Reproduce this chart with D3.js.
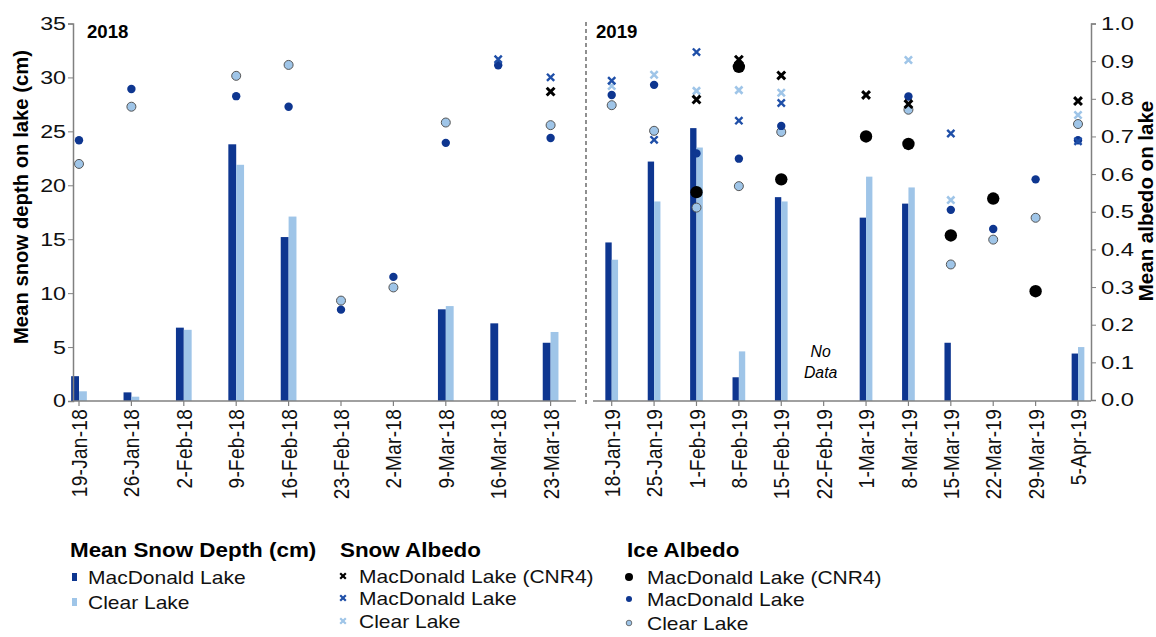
<!DOCTYPE html>
<html><head><meta charset="utf-8">
<script src="https://cdn.jsdelivr.net/npm/d3@7"></script>
<style>
body{margin:0;background:#fff;}
text{font-family:"Liberation Sans",Arial,sans-serif;}
</style></head>
<body><svg id="c" width="1156" height="637"></svg>
<script>
// ---- data ----
const cats2018 = ["19-Jan-18","26-Jan-18","2-Feb-18","9-Feb-18","16-Feb-18","23-Feb-18","2-Mar-18","9-Mar-18","16-Mar-18","23-Mar-18"];
const depthMac18   = [2.3,0.8,6.8,23.8,15.2,null,null,8.5,7.2,5.4];
const depthClear18 = [0.9,0.4,6.6,21.9,17.1,null,null,8.8,null,6.4];
const snowCNR18    = [null,null,null,null,null,null,null,null,null,0.819];
const snowMac18    = [null,null,null,null,null,null,null,null,0.905,0.857];
const snowClear18  = [null,null,null,null,null,null,null,null,null,null];
const iceCNR18     = [null,null,null,null,null,null,null,null,null,null];
const iceMac18     = [0.690,0.826,null,0.807,0.779,0.240,0.327,0.683,0.889,0.696];
const iceClear18   = [0.627,0.779,null,0.861,0.890,0.264,0.299,0.737,null,0.730];

const cats2019 = ["18-Jan-19","25-Jan-19","1-Feb-19","8-Feb-19","15-Feb-19","22-Feb-19","1-Mar-19","8-Mar-19","15-Mar-19","22-Mar-19","29-Mar-19","5-Apr-19"];
const depthMac19   = [14.7,22.2,25.3,2.2,18.9,null,17.0,18.3,5.4,null,null,4.4];
const depthClear19 = [13.1,18.5,23.5,4.6,18.5,null,20.8,19.8,null,null,null,5.0];
const snowCNR19    = [null,null,0.798,0.904,0.862,null,0.810,0.786,null,null,null,0.794];
const snowMac19    = [0.848,0.691,0.924,0.742,0.789,null,null,null,0.708,null,null,0.687];
const snowClear19  = [0.834,0.864,0.821,0.823,0.816,null,null,0.903,0.531,null,null,0.757];
const iceCNR19     = [null,null,0.552,0.885,0.586,null,0.700,0.680,0.437,0.535,0.289,null];
const iceMac19     = [0.810,0.837,0.655,0.641,0.728,null,null,0.806,0.505,0.454,0.586,0.690];
const iceClear19   = [0.783,0.715,0.511,0.568,0.712,null,null,0.771,0.360,0.426,0.484,0.733];

const depthTicks = [0,5,10,15,20,25,30,35];
const albedoTicks = [0,0.1,0.2,0.3,0.4,0.5,0.6,0.7,0.8,0.9,1.0];

// ---- styles ----
const DARK = "#0e3690", LIGHT = "#9fc5e8", AXIS = "#808080", SNOWMAC = "#1f4fa8";
const svg = d3.select("#c");

const yD = d3.scaleLinear().domain([0,35]).range([401,23.5]);
const yA = d3.scaleLinear().domain([0,1]).range([400,23.5]);

const panels = [
  {cats:cats2018, x:d3.scalePoint().domain(cats2018).range([79,550.6]), axis:[73,576], title:"2018", tx:87,
   dm:depthMac18, dc:depthClear18, sC:snowCNR18, sM:snowMac18, sL:snowClear18, iC:iceCNR18, iM:iceMac18, iL:iceClear18},
  {cats:cats2019, x:d3.scalePoint().domain(cats2019).range([611.7,1078]), axis:[593,1091], title:"2019", tx:596,
   dm:depthMac19, dc:depthClear19, sC:snowCNR19, sM:snowMac19, sL:snowClear19, iC:iceCNR19, iM:iceMac19, iL:iceClear19}
];

function xPath(s){ return `M${-s},${-s}L${s},${s}M${-s},${s}L${s},${-s}`; }

panels.forEach(p=>{
  const g = svg.append("g");
  const step = p.x.step();
  const bw = step*0.15;
  // bars
  g.selectAll(".bm").data(p.cats.map((c,i)=>({c,v:p.dm[i]})).filter(d=>d.v!=null)).join("rect")
    .attr("x",d=>p.x(d.c)-bw).attr("width",bw).attr("y",d=>yD(d.v)).attr("height",d=>yD(0)-yD(d.v)).attr("fill",DARK);
  g.selectAll(".bc").data(p.cats.map((c,i)=>({c,v:p.dc[i]})).filter(d=>d.v!=null)).join("rect")
    .attr("x",d=>p.x(d.c)).attr("width",bw).attr("y",d=>yD(d.v)).attr("height",d=>yD(0)-yD(d.v)).attr("fill",LIGHT);
  // x axis
  g.append("line").attr("x1",p.axis[0]).attr("x2",p.axis[1]).attr("y1",yD(0)).attr("y2",yD(0)).attr("stroke",AXIS).attr("stroke-width",1.5);
  const tk = g.selectAll(".tk").data(p.cats).join("g").attr("transform",d=>`translate(${p.x(d)},${yD(0)})`);
  tk.append("line").attr("y1",0).attr("y2",5).attr("stroke",AXIS).attr("stroke-width",1.2);
  tk.append("text").attr("transform","translate(0,8) scale(1.18,1) rotate(-90)").attr("text-anchor","end").attr("dy","0.36em")
    .attr("font-size",19).attr("fill","#111").style("letter-spacing","0.3px").text(d=>d);
  // markers
  const pts = arr => p.cats.map((c,i)=>({c,v:arr[i]})).filter(d=>d.v!=null);
  g.selectAll(".il").data(pts(p.iL)).join("circle").attr("cx",d=>p.x(d.c)).attr("cy",d=>yA(d.v)).attr("r",4.5)
    .attr("fill",LIGHT).attr("stroke","#555").attr("stroke-width",1);
  g.selectAll(".im").data(pts(p.iM)).join("circle").attr("cx",d=>p.x(d.c)).attr("cy",d=>yA(d.v)).attr("r",4.2).attr("fill",DARK);
  g.selectAll(".ic").data(pts(p.iC)).join("circle").attr("cx",d=>p.x(d.c)).attr("cy",d=>yA(d.v)).attr("r",6.2).attr("fill","#000");
  g.selectAll(".sl").data(pts(p.sL)).join("path").attr("transform",d=>`translate(${p.x(d.c)},${yA(d.v)})`)
    .attr("d",xPath(3.6)).attr("stroke",LIGHT).attr("stroke-width",2.6).attr("fill","none");
  g.selectAll(".sm").data(pts(p.sM)).join("path").attr("transform",d=>`translate(${p.x(d.c)},${yA(d.v)})`)
    .attr("d",xPath(3.6)).attr("stroke",SNOWMAC).attr("stroke-width",2.4).attr("fill","none");
  g.selectAll(".sc").data(pts(p.sC)).join("path").attr("transform",d=>`translate(${p.x(d.c)},${yA(d.v)})`)
    .attr("d",xPath(3.9)).attr("stroke","#000").attr("stroke-width",3).attr("fill","none");
  // panel title
  g.append("text").attr("x",p.tx).attr("y",38).attr("font-size",18.6).attr("font-weight","bold").text(p.title);
});

// No Data
const ndx = panels[1].x("22-Feb-19") - 3;
svg.append("text").attr("x",ndx).attr("y",357).attr("text-anchor","middle").attr("font-size",15.8).attr("font-style","italic").text("No");
svg.append("text").attr("x",ndx).attr("y",378).attr("text-anchor","middle").attr("font-size",15.8).attr("font-style","italic").text("Data");

// separator
svg.append("line").attr("x1",586).attr("x2",586).attr("y1",22).attr("y2",405).attr("stroke","#555").attr("stroke-width",1.3).attr("stroke-dasharray","4,3");

function stretch(sel, sx){
  sel.each(function(){
    const t = d3.select(this);
    const x = +t.attr("x") || 0;
    t.attr("x", x/sx).attr("transform", `scale(${sx},1)`);
  });
}
// left axis
const la = svg.append("g").attr("transform","translate(73,0)")
  .call(d3.axisLeft(yD).tickValues(depthTicks).tickSize(5).tickPadding(2).tickFormat(d3.format("d")));
la.select(".domain").attr("stroke",AXIS).attr("stroke-width",1.5);
la.selectAll(".tick line").attr("stroke",AXIS);
la.selectAll("text").attr("font-size",18.6).attr("fill","#111").attr("font-family","Liberation Sans, Arial, sans-serif");
stretch(la.selectAll("text"),1.25);
// right axis
const ra = svg.append("g").attr("transform","translate(1091,0)")
  .call(d3.axisRight(yA).tickValues(albedoTicks).tickSize(5).tickPadding(5).tickFormat(d3.format(".1f")));
ra.select(".domain").attr("stroke",AXIS).attr("stroke-width",1.5);
ra.selectAll(".tick line").attr("stroke",AXIS);
ra.selectAll("text").attr("font-size",18.6).attr("fill","#111").attr("font-family","Liberation Sans, Arial, sans-serif");
stretch(ra.selectAll("text"),1.28);

// axis titles
svg.append("text").attr("transform","translate(28,197) rotate(-90)").attr("text-anchor","middle")
  .attr("font-size",20.3).attr("font-weight","bold").text("Mean snow depth on lake (cm)");
svg.append("text").attr("transform","translate(1153,201) rotate(-90)").attr("text-anchor","middle")
  .attr("font-size",20.5).attr("font-weight","bold").text("Mean albedo on lake");

// legend
const LSX = 1.13;
const lg = svg.append("g");
const heads = [{t:"Mean Snow Depth (cm)",x:70},{t:"Snow Albedo",x:340},{t:"Ice Albedo",x:627}];
lg.selectAll(".h").data(heads).join("text").attr("transform",d=>`translate(${d.x},557) scale(1.12,1)`)
  .attr("font-size",20).attr("font-weight","bold").text(d=>d.t);
const items = [
  {x:74,y:577,type:"rect",c:DARK,t:"MacDonald Lake",tx:14},
  {x:74,y:602,type:"rect",c:LIGHT,t:"Clear Lake",tx:14},
  {x:343,y:576,type:"x",c:"#000",t:"MacDonald Lake (CNR4)",tx:16},
  {x:343,y:598,type:"x",c:SNOWMAC,t:"MacDonald Lake",tx:16},
  {x:343,y:621,type:"x",c:LIGHT,t:"Clear Lake",tx:16},
  {x:629,y:577,type:"c",c:"#000",t:"MacDonald Lake (CNR4)",r:4,tx:18},
  {x:629,y:599,type:"c",c:DARK,t:"MacDonald Lake",r:3,tx:18},
  {x:629,y:623,type:"c",c:LIGHT,t:"Clear Lake",r:2.8,s:"#555",tx:18}
];
items.forEach(it=>{
  const g = lg.append("g").attr("transform",`translate(${it.x},${it.y})`);
  if(it.type==="rect") g.append("rect").attr("x",-2).attr("y",-4).attr("width",5).attr("height",8).attr("fill",it.c);
  else if(it.type==="x") g.append("path").attr("d",xPath(2.8)).attr("stroke",it.c).attr("stroke-width",2.2).attr("fill","none");
  else g.append("circle").attr("r",it.r).attr("fill",it.c).attr("stroke",it.s||"none").attr("stroke-width",0.8);
  g.append("text").attr("transform",`translate(${it.tx},0) scale(${LSX},1)`).attr("dy","0.36em").attr("font-size",18.6).attr("fill","#111").text(it.t);
});
</script></body></html>
